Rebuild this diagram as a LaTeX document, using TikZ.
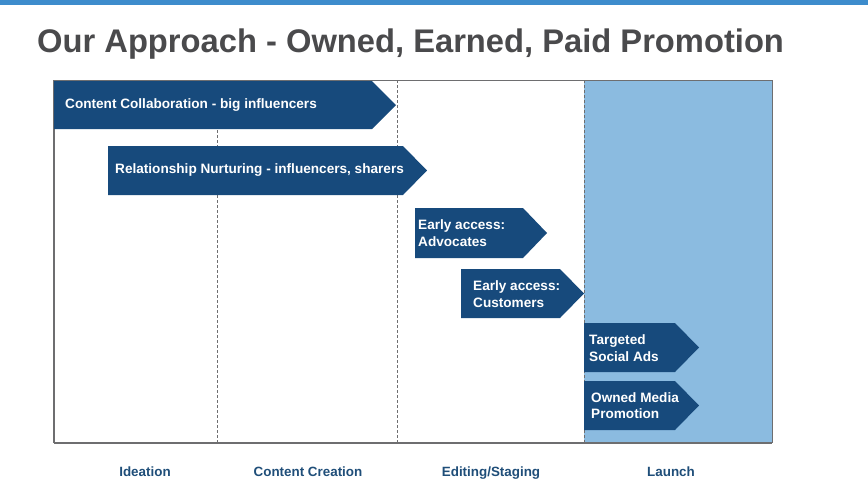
\documentclass[tikz,border=0pt]{standalone}
\usepackage{fontspec}
\setmainfont{Liberation Sans}
\usetikzlibrary{calc}
\definecolor{topbar}{HTML}{3D8CCC}
\definecolor{titlegray}{HTML}{4A4A4C}
\definecolor{arrowblue}{HTML}{174A7C}
\definecolor{launchblue}{HTML}{8BBBE0}
\definecolor{framegray}{HTML}{6E6E70}
\definecolor{labelblue}{HTML}{1F4E79}
\tikzset{
  phasearrow/.style={fill=arrowblue, draw=none},
  arrowtext/.style={text=white, font=\bfseries\fontsize{13.6}{16.5}\selectfont, align=left, anchor=west, inner sep=0pt},
  phaselabel/.style={text=labelblue, font=\bfseries\fontsize{13.4}{15}\selectfont, inner sep=0pt, anchor=base},
  divider/.style={draw=framegray, dash pattern=on 3pt off 2pt, line width=0.8pt},
}
\newcommand{\phasearrowshape}[6]{% name, x0, y0, bodyend, tip, y1
  \fill[phasearrow] (#2,#3) -- (#4,#3) -- (#5,{(#3+#6)/2}) -- (#4,#6) -- (#2,#6) -- cycle;
  \coordinate (#1) at (#2,{(#3+#6)/2});
}
\begin{document}
\begin{tikzpicture}[x=1pt,y=-1pt]
\useasboundingbox (0,0) rectangle (868,488);
\fill[white] (0,0) rectangle (868,488);
% top bar
\fill[topbar] (0,0) rectangle (868,4.5);
% title
\node[anchor=base west, inner sep=0pt, text=titlegray, font=\bfseries\fontsize{32.7}{38}\selectfont] (title) at (37,52) {Our Approach - Owned, Earned, Paid Promotion};
% launch area
\fill[launchblue] (584,80) rectangle (772,443);
% frame
\draw[framegray, line width=0.9pt] (54,80) -- (772,80) -- (772,443);
\draw[framegray, line width=1.2pt] (54,80) -- (54,443);
\draw[framegray, line width=2pt] (54,443) -- (772,443);
% dividers
\draw[divider] (217,80) -- (217,443);
\draw[divider] (397,80) -- (397,443);
\draw[divider] (584,80) -- (584,443);
% arrows
\phasearrowshape{a1}{54}{81}{372}{396}{129}
\node[arrowtext] (t1) at (65,105) {Content Collaboration - big influencers};
\phasearrowshape{a2}{108}{146}{403}{427}{195}
\node[arrowtext] (t2) at (115,170.5) {Relationship Nurturing - influencers, sharers};
\phasearrowshape{a3}{415}{208}{523}{547}{258}
\node[arrowtext] (t3) at (418,233) {Early access:\\Advocates};
\phasearrowshape{a4}{461}{269}{560}{584}{318}
\node[arrowtext] (t4) at (473,294) {Early access:\\Customers};
\phasearrowshape{a5}{584}{323}{675}{699}{372}
\node[arrowtext] (t5) at (589,348) {Targeted\\Social Ads};
\phasearrowshape{a6}{584}{381}{675}{699}{430}
\node[arrowtext] (t6) at (591,405.5) {Owned Media\\Promotion};
% phase labels
\node[phaselabel] (l1) at (145,476) {Ideation};
\node[phaselabel] (l2) at (308,476) {Content Creation};
\node[phaselabel] (l3) at (491,476) {Editing/Staging};
\node[phaselabel] (l4) at (671,476) {Launch};
\end{tikzpicture}
\end{document}
